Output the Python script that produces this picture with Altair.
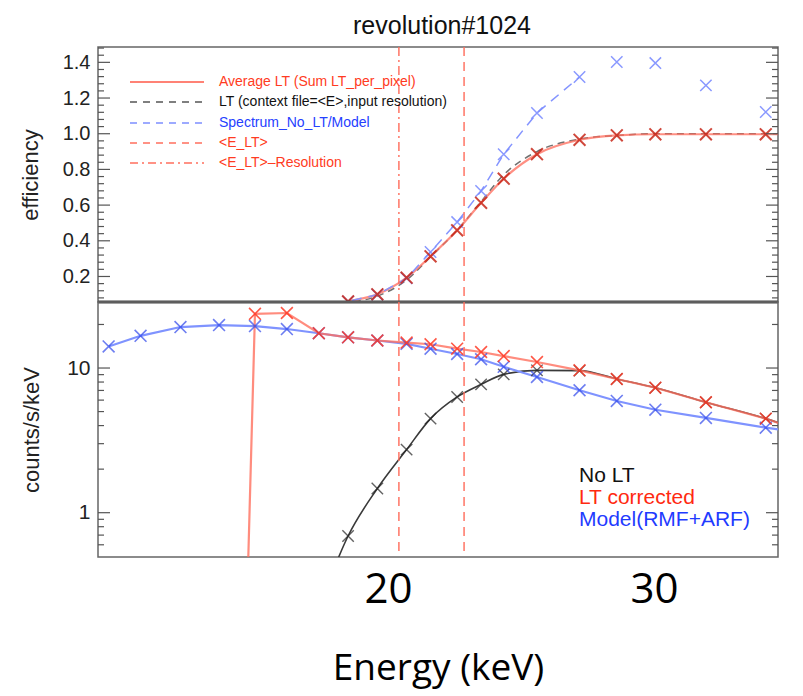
import altair as alt
import pandas as pd

# ---------------- data ----------------
energy = [9.5, 10.7, 12.2, 13.65, 15.0, 16.2, 17.4, 18.5, 19.6, 20.7, 21.6,
          22.6, 23.5, 24.35, 25.6, 27.2, 28.6, 30.05, 31.95, 34.2, 36.4]
model_rmf_arf = [14.1, 16.7, 19.2, 19.8, 19.5, 18.6, 17.4, 16.3, 15.5, 14.7, 13.6,
                 12.5, 11.5, 10.2, 8.67, 7.02, 5.92, 5.15, 4.52, 3.87, 3.4]
lt_corrected = [None, None, None, 2e-8, 23.7, 24.0, 17.4, 16.3, 15.5, 15.0, 14.6,
                13.6, 12.9, 12.1, 11.0, 9.64, 8.40, 7.31, 5.80, 4.47, 3.25]
no_lt = [None, None, None, None, None, None, 0.22, 0.69, 1.47, 2.73, 4.47,
         6.31, 7.71, 9.04, 9.64, 9.6, 8.40, 7.31, 5.80, 4.47, 3.25]

eff_average_lt = [None, None, None, None, None, None, 0.02, 0.06, 0.10, 0.193, 0.313,
                  0.459, 0.613, 0.748, 0.885, 0.966, 0.991, 0.997, 0.997, 0.997, 0.997]
eff_lt_context = [None, None, None, None, None, None, 0.01, 0.05, 0.09, 0.18, 0.31,
                  0.46, 0.62, 0.77, 0.90, 0.97, 0.99, 1.0, 1.0, 1.0, 1.0]
eff_no_lt_model = [None, None, None, None, None, None, 0.02, 0.06, 0.098, 0.19, 0.337,
                   0.505, 0.679, 0.885, 1.116, 1.318, 1.402, 1.396, 1.271, 1.122, None]
blue_line_end = 27.2

e_lt = 22.86
e_lt_resolution = 20.41

x_tick_values = [20, 30]
eff_major = [0.2, 0.4, 0.6, 0.8, 1.0, 1.2, 1.4]
eff_minor = [0.08, 0.12, 0.16, 0.24, 0.28, 0.32, 0.36, 0.44, 0.48, 0.52, 0.56,
             0.64, 0.68, 0.72, 0.76, 0.84, 0.88, 0.92, 0.96, 1.04, 1.08, 1.12,
             1.16, 1.24, 1.28, 1.32, 1.36, 1.44, 1.48]
cnt_major = [1, 10]
cnt_minor = [0.6, 0.7, 0.8, 0.9, 2, 3, 4, 5, 6, 7, 8, 9, 20]

top_legend_labels = ["Average LT (Sum LT_per_pixel)",
                     "LT (context file=<E>,input resolution)",
                     "Spectrum_No_LT/Model", "<E_LT>", "<E_LT>–Resolution"]
bottom_legend_labels = ["No LT", "LT corrected", "Model(RMF+ARF)"]

# ---------------- styles ----------------
W, H = 680, 255
XDOM = [9.1, 34.66]
FONT = "Liberation Sans"
RED_TXT = "#ff3b22"
BLUE_TXT = "#2540ff"
VLINE = "#ff6f5e"

df = pd.DataFrame({
    "energy": energy, "model": model_rmf_arf, "lt_corr": lt_corrected,
    "no_lt": no_lt, "eff_avg": eff_average_lt, "eff_ctx": eff_lt_context,
    "eff_ratio": eff_no_lt_model,
})

xs = alt.Scale(domain=XDOM, nice=False, zero=False)
ys_top = alt.Scale(domain=[0.057, 1.486], nice=False, zero=False)
ys_bot = alt.Scale(type="log", domain=[0.494, 28.6], nice=False)
XSHAPE = "M-1,-1L1,1M-1,1L1,-1"

y_axis_top = alt.Axis(values=eff_major, format=".1f", ticks=False, domain=False,
                      grid=False, labelFont=FONT, labelFontSize=20,
                      labelColor="#222", labelPadding=8,
                      titleFont=FONT, titleFontSize=22, titleFontWeight="normal",
                      titleColor="#222", titlePadding=20)
x_axis_bot = alt.Axis(values=x_tick_values, format="d", ticks=False, domain=False,
                      grid=False, labelFont="Open Sans", labelFontSize=42,
                      labelColor="#000", labelPadding=12,
                      titleFont="Open Sans", titleFontSize=37,
                      titleFontWeight="normal", titleColor="#000", titlePadding=40)
y_axis_bot = alt.Axis(values=cnt_major, format="d", ticks=False, domain=False,
                      grid=False, labelFont=FONT, labelFontSize=21,
                      labelColor="#222", labelPadding=8,
                      titleFont=FONT, titleFontSize=22, titleFontWeight="normal",
                      titleColor="#222", titlePadding=23)

TOP_YT = "efficiency"
BOT_YT = "counts/s/keV"
BOT_XT = "Energy (keV)"

base = alt.Chart(df)


def xenc(panel, field="energy"):
    if panel == "top":
        return alt.X(f"{field}:Q", scale=xs, axis=None)
    return alt.X(f"{field}:Q", scale=xs, axis=x_axis_bot, title=BOT_XT)


def yenc(panel, field):
    if panel == "top":
        return alt.Y(f"{field}:Q", scale=ys_top, axis=y_axis_top, title=TOP_YT)
    return alt.Y(f"{field}:Q", scale=ys_bot, axis=y_axis_bot, title=BOT_YT)


def tick_layer(panel, vals, x0, x1, width=1.2):
    return alt.Chart(pd.DataFrame({"t": vals})).mark_rule(
        color="#555", strokeWidth=width
    ).encode(y=yenc(panel, "t"), x=alt.value(x0), x2=alt.value(x1))


def vline(panel, value, dash):
    return alt.Chart(pd.DataFrame({"e": [value]})).mark_rule(
        color=VLINE, strokeWidth=1.6, strokeDash=dash, opacity=0.9
    ).encode(x=xenc(panel, "e"))


# ---------------- upper panel ----------------
ctx_line = base.mark_line(color="#707070", strokeWidth=1.5, strokeDash=[7, 5],
                          interpolate="monotone", clip=True).encode(
    x=xenc("top"), y=yenc("top", "eff_ctx"))
avg_line = base.mark_line(color="#ff6a5a", strokeWidth=2.2, opacity=0.75,
                          interpolate="monotone", clip=True).encode(
    x=xenc("top"), y=yenc("top", "eff_avg"))
ratio_line = base.transform_filter(f"datum.energy <= {blue_line_end}").mark_line(
    color="#8494ff", strokeWidth=1.5, strokeDash=[10, 7], clip=True).encode(
    x=xenc("top"), y=yenc("top", "eff_ratio"))
ratio_pts = base.transform_filter("datum.eff_ratio >= 0.03").mark_point(
    shape=XSHAPE, filled=False, size=130, strokeWidth=1.5, color="#7d8eff",
    opacity=0.9, clip=True).encode(x=xenc("top"), y=yenc("top", "eff_ratio"))
avg_pts = base.transform_filter("datum.eff_avg >= 0.03").mark_point(
    shape=XSHAPE, filled=False, size=140, strokeWidth=2, color="#c8281a",
    opacity=0.85, clip=True).encode(x=xenc("top"), y=yenc("top", "eff_avg"))

top_layers = [ctx_line, avg_line, ratio_line, ratio_pts, avg_pts,
              vline("top", e_lt_resolution, [9, 4, 2, 4]), vline("top", e_lt, [9, 6]),
              tick_layer("top", eff_major, 0, 12), tick_layer("top", eff_minor, 0, 6),
              tick_layer("top", eff_major, W, W - 12),
              tick_layer("top", eff_minor, W, W - 6)]

# upper legend
leg_colors = [RED_TXT, "#111111", BLUE_TXT, RED_TXT, RED_TXT]
leg_line_colors = ["#ff5a48", "#555555", "#7d8eff", "#ff6f5e", "#ff6f5e"]
leg_dash = [[1, 0], [7, 6], [7, 6], [7, 6], [8, 4, 2, 4]]
leg_rows = [35, 55, 76, 96, 116]
for lab, tc, lc, dsh, yy in zip(top_legend_labels, leg_colors, leg_line_colors,
                               leg_dash, leg_rows):
    d = pd.DataFrame({"label": [lab]})
    top_layers.append(alt.Chart(d).mark_rule(color=lc, strokeWidth=1.6,
                                             strokeDash=dsh).encode(
        x=alt.value(32), x2=alt.value(106), y=alt.value(yy)))
    top_layers.append(alt.Chart(d).mark_text(
        align="left", baseline="middle", font=FONT, fontSize=14, color=tc).encode(
        x=alt.value(121), y=alt.value(yy), text="label:N"))

# thick divider between the panels
top_layers.append(alt.Chart(pd.DataFrame({"label": ["divider"]})).mark_rule(
    color="#444", strokeWidth=3).encode(x=alt.value(0), x2=alt.value(W),
                                        y=alt.value(H)))

top = alt.layer(*top_layers).properties(
    width=W, height=H,
    title=alt.Title("revolution#1024", font=FONT, fontSize=25, fontWeight="normal",
                    color="#111", anchor="middle", frame="group", offset=7, dx=4))

# ---------------- lower panel ----------------
black_line = base.mark_line(color="#3a3a3a", strokeWidth=1.6, interpolate="monotone",
                            clip=True).encode(x=xenc("bot"), y=yenc("bot", "no_lt"))
blue_line = base.mark_line(color="#7f93ff", strokeWidth=2.2, clip=True).encode(
    x=xenc("bot"), y=yenc("bot", "model"))
red_line = base.mark_line(color="#ff6f5e", strokeWidth=2.2, opacity=0.8,
                          clip=True).encode(x=xenc("bot"), y=yenc("bot", "lt_corr"))
black_pts = base.transform_filter("datum.no_lt >= 0.45").mark_point(
    shape=XSHAPE, filled=False, size=130, strokeWidth=1.4, color="#222",
    clip=True).encode(x=xenc("bot"), y=yenc("bot", "no_lt"))
blue_pts = base.mark_point(shape=XSHAPE, filled=False, size=140, strokeWidth=1.6,
                           color="#3048ec", clip=True).encode(
    x=xenc("bot"), y=yenc("bot", "model"))
red_pts = base.transform_filter("datum.lt_corr >= 0.45").mark_point(
    shape=XSHAPE, filled=False, size=140, strokeWidth=1.6, color="#ff3a26",
    opacity=0.85, clip=True).encode(x=xenc("bot"), y=yenc("bot", "lt_corr"))

bot_layers = [black_line, blue_line, red_line, black_pts, blue_pts, red_pts,
              vline("bot", e_lt_resolution, [9, 6]), vline("bot", e_lt, [9, 6]),
              tick_layer("bot", cnt_major, 0, 12), tick_layer("bot", cnt_minor, 0, 6),
              tick_layer("bot", cnt_major, W, W - 12),
              tick_layer("bot", cnt_minor, W, W - 6)]

bot_colors = ["#111111", "#ff2a10", "#1f3bff"]
bot_rows = [180, 202, 224]
for lab, c, yy in zip(bottom_legend_labels, bot_colors, bot_rows):
    bot_layers.append(alt.Chart(pd.DataFrame({"label": [lab]})).mark_text(
        align="left", baseline="alphabetic", font=FONT, fontSize=21, color=c).encode(
        x=alt.value(481), y=alt.value(yy), text="label:N"))

bottom = alt.layer(*bot_layers).properties(width=W, height=H)

chart = alt.vconcat(top, bottom, spacing=0, bounds="flush").properties(
    padding={"left": 18, "top": 13, "right": 5, "bottom": 6}
).configure_view(stroke="#666", strokeWidth=1.5).configure_axis(grid=False)

chart.save("out.html", embed_options={"renderer": "svg", "actions": False})
